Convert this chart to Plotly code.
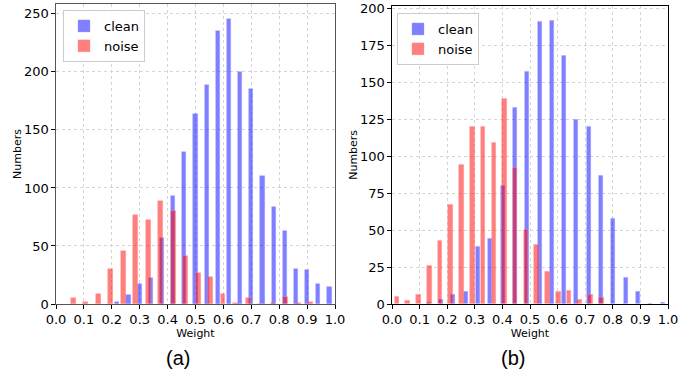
import plotly.graph_objects as go

# ---- data ----
a_clean_x = [0.22, 0.26, 0.30, 0.34, 0.38, 0.42, 0.46, 0.50, 0.54, 0.58,
             0.62, 0.66, 0.70, 0.74, 0.78, 0.82, 0.86, 0.90, 0.94, 0.98]
a_clean_y = [2, 8, 17, 22, 57, 93, 131, 164, 189, 235,
             246, 200, 185, 110, 84, 63, 30, 29, 17, 15]
a_noise_x = [0.062, 0.107, 0.152, 0.196, 0.241, 0.286, 0.331, 0.375, 0.420, 0.465,
             0.510, 0.554, 0.599, 0.644, 0.689, 0.733, 0.778, 0.823, 0.868, 0.913]
a_noise_y = [5, 2, 9, 30, 46, 77, 72, 89, 80, 41,
             27, 23, 9, 1, 5, 0, 1, 6, 1, 2]

b_clean_x = [0.133, 0.178, 0.222, 0.267, 0.312, 0.356, 0.401, 0.445, 0.490, 0.535,
             0.579, 0.624, 0.668, 0.713, 0.758, 0.802, 0.847, 0.891, 0.936, 0.981]
b_clean_y = [1, 3, 6, 8, 39, 44, 80, 133, 157, 191,
             192, 168, 125, 120, 87, 58, 18, 8, 0, 1]
b_noise_x = [0.018, 0.057, 0.096, 0.135, 0.174, 0.213, 0.252, 0.291, 0.330, 0.369,
             0.408, 0.446, 0.485, 0.524, 0.563, 0.602, 0.641, 0.680, 0.719, 0.758]
b_noise_y = [5, 2, 6, 26, 43, 67, 94, 120, 120, 109,
             139, 92, 50, 40, 22, 8, 9, 3, 6, 4]

x_ticks = [0.0, 0.1, 0.2, 0.3, 0.4, 0.5, 0.6, 0.7, 0.8, 0.9, 1.0]
a_y_ticks = [0, 50, 100, 150, 200, 250]
b_y_ticks = [0, 25, 50, 75, 100, 125, 150, 175, 200]
series_names = ["clean", "noise"]
panel_labels = ["(a)", "(b)"]

BLUE = "rgba(0,0,255,0.5)"
RED = "rgba(255,0,0,0.5)"
FONT = "DejaVu Sans"

fig = go.Figure()

def add_panel(cx, cy, nx, ny, xa, ya, leg):
    fig.add_trace(go.Bar(x=cx, y=cy, width=0.015, name=series_names[0],
                         marker=dict(color=BLUE, line=dict(width=0.6, color="rgba(150,150,255,0.6)")),
                         xaxis=xa, yaxis=ya, legend=leg))
    fig.add_trace(go.Bar(x=nx, y=ny, width=0.017, name=series_names[1],
                         marker=dict(color=RED, line=dict(width=0.6, color="rgba(255,150,150,0.6)")),
                         xaxis=xa, yaxis=ya, legend=leg))

add_panel(a_clean_x, a_clean_y, a_noise_x, a_noise_y, "x", "y", "legend")
add_panel(b_clean_x, b_clean_y, b_noise_x, b_noise_y, "x2", "y2", "legend2")

def xaxis_cfg(domain, anchor, linecolor):
    return dict(domain=domain, anchor=anchor, range=[0, 1], tickvals=x_ticks,
                ticktext=[f"{v:.1f}" for v in x_ticks], automargin=False,
                ticks="outside", ticklen=3.5, tickwidth=0.8, tickcolor="black",
                showline=True, linecolor=linecolor, linewidth=1.2, mirror=True,
                showgrid=True, gridcolor="#d5d5d5", griddash="dot", gridwidth=0.8,
                zeroline=False,
                tickfont=dict(family=FONT, size=13, color="black"),
                title=dict(text="Weight", font=dict(family=FONT, size=11, color="black"), standoff=0))

def yaxis_cfg(domain, anchor, rng, ticks, linecolor):
    return dict(domain=domain, anchor=anchor, range=rng, tickvals=ticks, automargin=False,
                ticks="outside", ticklen=3.5, tickwidth=0.8, tickcolor="black",
                showline=True, linecolor=linecolor, linewidth=1.2, mirror=True,
                showgrid=True, gridcolor="#d5d5d5", griddash="dot", gridwidth=0.8,
                zeroline=False,
                tickfont=dict(family=FONT, size=13, color="black"),
                title=dict(text="Numbers", font=dict(family=FONT, size=11, color="black"), standoff=0))

W, H = 690, 381
fig.update_layout(
    width=W, height=H,
    margin=dict(l=0, r=0, t=0, b=0, autoexpand=False),
    paper_bgcolor="white", plot_bgcolor="white",
    barmode="overlay", bargap=0,
    xaxis=xaxis_cfg([56 / W, 335 / W], "y", "#555555"),
    yaxis=yaxis_cfg([1 - 304 / H, 1 - 4 / H], "x", [0, 258.5], a_y_ticks, "#555555"),
    xaxis2=xaxis_cfg([392 / W, 668 / W], "y2", "black"),
    yaxis2=yaxis_cfg([1 - 304 / H, 1 - 5.7 / H], "x2", [0, 202], b_y_ticks, "black"),
    legend=dict(x=63 / W, y=1 - 10 / H, xanchor="left", yanchor="top",
                bgcolor="rgba(255,255,255,0.85)", bordercolor="#cccccc", borderwidth=1,
                font=dict(family=FONT, size=13, color="black"), tracegroupgap=0,
                itemwidth=30),
    legend2=dict(x=397 / W, y=1 - 13 / H, xanchor="left", yanchor="top",
                 bgcolor="rgba(255,255,255,0.85)", bordercolor="#cccccc", borderwidth=1,
                 font=dict(family=FONT, size=13, color="black"), tracegroupgap=0,
                 itemwidth=30),
    annotations=[
        dict(text=panel_labels[0], x=178 / W, y=1 - 358 / H, xref="paper", yref="paper",
             showarrow=False, font=dict(family="Liberation Sans", size=20, color="black"),
             xanchor="center", yanchor="middle"),
        dict(text=panel_labels[1], x=513 / W, y=1 - 358 / H, xref="paper", yref="paper",
             showarrow=False, font=dict(family="Liberation Sans", size=20, color="black"),
             xanchor="center", yanchor="middle"),
    ],
)

fig.write_html("out.html", config={"displayModeBar": False},
               post_script="document.body.style.margin='0px';document.body.style.overflow='hidden';")
